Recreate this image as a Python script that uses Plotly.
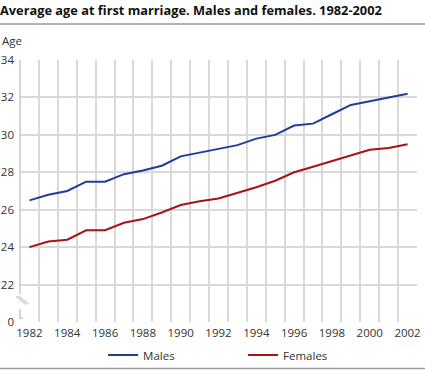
import plotly.graph_objects as go

years = list(range(1982, 2003))
males = [26.5, 26.8, 27.0, 27.5, 27.5, 27.9, 28.1, 28.35, 28.85, 29.05, 29.25, 29.45, 29.8, 30.0,
         30.5, 30.6, 31.1, 31.6, 31.8, 32.0, 32.2]
females = [24.0, 24.3, 24.4, 24.9, 24.9, 25.3, 25.5, 25.85, 26.25, 26.45, 26.6, 26.9, 27.2, 27.55,
           28.0, 28.3, 28.6, 28.9, 29.2, 29.3, 29.5]
xtick_vals = list(range(1982, 2003, 2))
ytick_vals = [20, 22, 24, 26, 28, 30, 32, 34]
ytick_text = ["0", "22", "24", "26", "28", "30", "32", "34"]

FONT = "Open Sans"
GRID = "#d9d9d9"
BLUE = "#1f3d99"
RED = "#a51412"

fig = go.Figure()
fig.add_trace(go.Scatter(x=years, y=males, mode="lines", name="Males",
                         line=dict(color=BLUE, width=2)))
fig.add_trace(go.Scatter(x=years, y=females, mode="lines", name="Females",
                         line=dict(color=RED, width=2)))

fig.update_layout(
    width=425, height=370,
    margin=dict(l=20, r=8, t=60, b=48, autoexpand=False),
    plot_bgcolor="white", paper_bgcolor="white",
    font=dict(family=FONT, size=11.5, color="#333333"),
    title=dict(text="<b>Average age at first marriage. Males and females. 1982-2002</b>",
               x=0, xref="container", xanchor="left", y=1 - 11 / 370, yanchor="middle",
               yref="container",
               font=dict(family=FONT, size=12.8, color="#111111"), pad=dict(l=0, t=0, b=0, r=0)),
    showlegend=True,
    legend=dict(orientation="h", x=(103 - 20) / 396.7, xanchor="left",
                y=-33 / 262, yanchor="middle", entrywidth=95, entrywidthmode="pixels",
                font=dict(size=11.5, color="#333333"), bgcolor="rgba(0,0,0,0)"),
    xaxis=dict(range=[1981.5, 2002.5], tickvals=xtick_vals, showgrid=False, automargin=False,
               zeroline=False, showline=False, ticks="",
               minor=dict(tick0=1981.5, dtick=1, showgrid=True, gridcolor=GRID, gridwidth=1.5)),
    yaxis=dict(range=[20, 34], tickvals=ytick_vals, ticktext=ytick_text, showgrid=False,
               automargin=False,
               zeroline=False, showline=False, ticks="", ticklabelstandoff=5,
               minor=dict(tickvals=ytick_vals[1:], showgrid=True, gridcolor=GRID, gridwidth=1.5)),
)
fig.layout.xaxis.ticklabelstandoff = 2

shapes = []
# left axis line with a break
shapes.append(dict(type="line", xref="paper", yref="y", x0=0, x1=0, y0=20.15, y1=20.7,
                   line=dict(color="#c8c8c8", width=1.5)))
shapes.append(dict(type="line", xref="paper", yref="y", x0=0, x1=0, y0=21.5, y1=34,
                   line=dict(color="#c8c8c8", width=1.5)))
# small tick at bottom-left
shapes.append(dict(type="line", xref="paper", yref="y", xsizemode="pixel", xanchor=0,
                   x0=0, x1=3, y0=20.2, y1=20.2, line=dict(color="#c8c8c8", width=1.5)))
# break marks
for off in (0, 2.5):
    shapes.append(dict(type="line", xref="paper", yref="y", xsizemode="pixel", xanchor=0,
                       ysizemode="pixel", yanchor=21.1,
                       x0=-4 + off, x1=6 + off, y0=5 + off * 0.2, y1=-3 + off * 0.2,
                       line=dict(color="#c8c8c8", width=1.2)))
# title rule and bottom rule
shapes.append(dict(type="line", xref="paper", yref="paper", x0=-20 / 396.7, x1=(425 - 20) / 396.7,
                   y0=(322 - 24) / 262, y1=(322 - 24) / 262, line=dict(color="#9a9a9a", width=1.5)))
shapes.append(dict(type="line", xref="paper", yref="paper", x0=-20 / 396.7, x1=(425 - 20) / 396.7,
                   y0=(322 - 368.5) / 262, y1=(322 - 368.5) / 262, line=dict(color="#9a9a9a", width=1.5)))
fig.update_layout(shapes=shapes)

fig.add_annotation(text="Age", xref="paper", yref="paper", x=-20 / 396.7, y=(322 - 40) / 262,
                   xanchor="left", yanchor="middle", showarrow=False,
                   font=dict(size=11.5, color="#333333"))

fig.write_html("out.html", config={"displayModeBar": False},
               post_script="document.body.style.margin='0';")
